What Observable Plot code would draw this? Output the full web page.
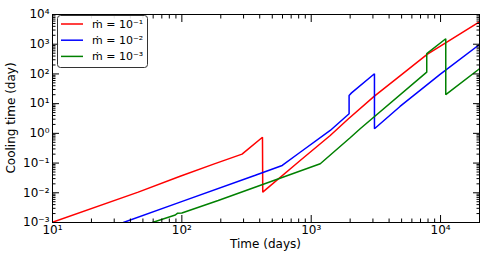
<!DOCTYPE html>
<html><head><meta charset="utf-8">
<script src="https://cdn.jsdelivr.net/npm/d3@7"></script>
<script src="https://cdn.jsdelivr.net/npm/@observablehq/plot@0.6"></script>
<style>
body{margin:0;background:#fff;}
#chart{position:relative;width:485px;height:258px;}
svg{font-family:"DejaVu Sans",sans-serif;}
</style>
</head><body><div id="chart"></div>
<script>
// ---- data ----
const seriesNames = ["ṁ = 10⁻¹", "ṁ = 10⁻²", "ṁ = 10⁻³"];
const seriesColors = ["#ff0000", "#0000ff", "#008000"];

const redTime    = [10, 46, 97, 176, 292, 420, 422, 822, 1403, 1932, 3063, 4860, 7870, 20000];
const redCooling = [0.00102, 0.0105, 0.036, 0.092, 0.2, 0.74, 0.0105, 0.122, 0.85, 3.05, 17.5, 86, 454, 5700];

const blueTime    = [35.3, 97, 370, 597, 822, 1403, 1963, 1963, 2050, 3083, 3083, 4860, 9910, 20000];
const blueCooling = [0.001, 0.00486, 0.039, 0.083, 0.231, 1.25, 4.57, 18.9, 23, 101.6, 1.43, 8.05, 96, 980];

const greenTime    = [59.2, 89, 92.3, 100, 191, 1175, 2000, 2390, 7820, 7820, 10970, 10970, 20000];
const greenCooling = [0.001, 0.00179, 0.00204, 0.0021, 0.0055, 0.095, 0.71, 1.43, 115, 480, 1530, 20, 150];

const xMajorTicks = [10, 100, 1000, 10000];
const yMajorTicks = [1e-3, 1e-2, 1e-1, 1, 10, 100, 1000, 10000];
const xLabel = "Time (days)";
const yLabel = "Cooling time (day)";

// ---- build table ----
const seriesTimes = [redTime, blueTime, greenTime];
const seriesValues = [redCooling, blueCooling, greenCooling];
const rows = [];
seriesNames.forEach((name, i) => {
  seriesTimes[i].forEach((t, j) => rows.push({series: name, t, y: seriesValues[i][j]}));
});

function minorOf(majors, maxV) {
  const out = [];
  majors.forEach(m => { for (let k = 2; k <= 9; k++) { const v = m * k; if (v <= maxV) out.push(v); } });
  return out;
}
const xMinorTicks = minorOf(xMajorTicks, 20000);
const yMinorTicks = minorOf(yMajorTicks.slice(0, -1), 10000);

const sup = {"0":"⁰","1":"¹","2":"²","3":"³","4":"⁴","5":"⁵","6":"⁶","7":"⁷","8":"⁸","9":"⁹","-":"⁻"};
const fmt = d => "10" + String(Math.round(Math.log10(d))).split("").map(c => sup[c]).join("");
const blank = () => "";

const W = 485, H = 258, mL = 52, mR = 6, mT = 14, mB = 36;
const majLen = 7, minLen = 3.5;

const plot = Plot.plot({
  width: W, height: H,
  marginLeft: mL, marginRight: mR, marginTop: mT, marginBottom: mB,
  style: {fontFamily: "DejaVu Sans, sans-serif", background: "#fff", overflow: "visible"},
  x: {type: "log", domain: [10, 20000], label: null, axis: null},
  y: {type: "log", domain: [1e-3, 1e4], label: null, axis: null},
  color: {domain: seriesNames, range: seriesColors},
  marks: [
    Plot.line(rows, {x: "t", y: "y", z: "series", stroke: "series", strokeWidth: 1.5, clip: true, strokeLinejoin: "miter"}),
    Plot.axisX(xMajorTicks, {anchor: "bottom", tickSize: -majLen, tickFormat: blank, label: null}),
    Plot.axisX(xMajorTicks, {anchor: "top", tickSize: -majLen, tickFormat: blank, label: null}),
    Plot.axisX(xMinorTicks, {anchor: "bottom", tickSize: -minLen, tickFormat: blank, label: null}),
    Plot.axisX(xMinorTicks, {anchor: "top", tickSize: -minLen, tickFormat: blank, label: null}),
    Plot.axisY(yMajorTicks, {anchor: "left", tickSize: -majLen, tickFormat: blank, label: null}),
    Plot.axisY(yMajorTicks, {anchor: "right", tickSize: -majLen, tickFormat: blank, label: null}),
    Plot.axisY(yMinorTicks, {anchor: "left", tickSize: -minLen, tickFormat: blank, label: null}),
    Plot.axisY(yMinorTicks, {anchor: "right", tickSize: -minLen, tickFormat: blank, label: null}),
    Plot.axisX(xMajorTicks, {anchor: "bottom", tickSize: 0, tickPadding: 3, tickFormat: fmt, fontSize: 12, label: null, fill: "black"}),
    Plot.axisY(yMajorTicks, {anchor: "left", tickSize: 0, tickPadding: 3, tickFormat: fmt, fontSize: 12, label: null, fill: "black"}),
    Plot.frame({stroke: "black", strokeWidth: 1})
  ]
});
document.getElementById("chart").appendChild(plot);

// axis titles and legend
const svg = d3.select(plot);
svg.append("text").attr("x", (mL + W - mR) / 2).attr("y", 248).attr("text-anchor", "middle")
  .attr("font-size", 12).attr("fill", "black").text(xLabel);
svg.append("text").attr("transform", `translate(15,${(mT + H - mB) / 2}) rotate(-90)`).attr("text-anchor", "middle")
  .attr("font-size", 12).attr("fill", "black").text(yLabel);

const lg = svg.append("g");
lg.append("rect").attr("x", 57.5).attr("y", 15.5).attr("width", 90).attr("height", 52).attr("rx", 3)
  .attr("fill", "white").attr("fill-opacity", 0.9).attr("stroke", "#333").attr("stroke-width", 1);
seriesNames.forEach((name, i) => {
  const yy = 24 + i * 16.2;
  lg.append("line").attr("x1", 61).attr("x2", 83).attr("y1", yy).attr("y2", yy)
    .attr("stroke", seriesColors[i]).attr("stroke-width", 1.5);
  lg.append("text").attr("x", 92).attr("y", yy + 4).attr("text-anchor", "start")
    .attr("font-size", 11).attr("fill", "black").text(name);
});
</script>
</body></html>
